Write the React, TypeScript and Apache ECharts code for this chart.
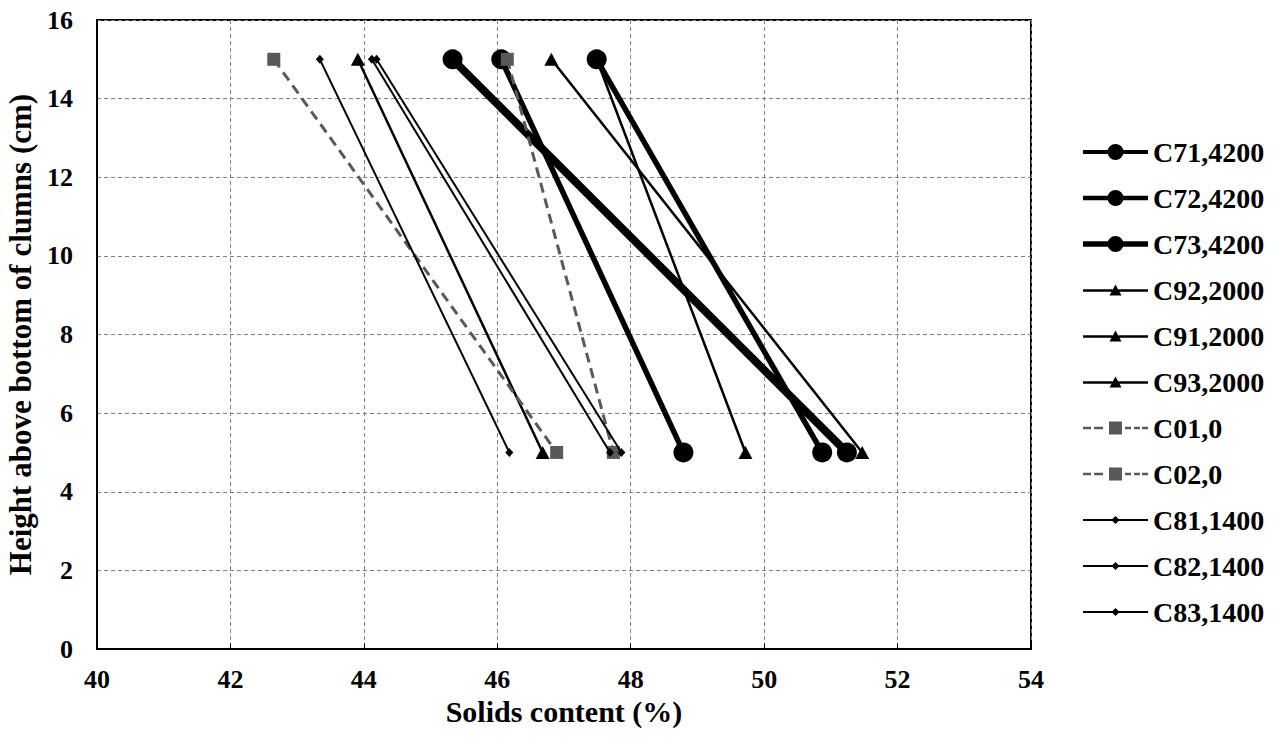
import React, { useEffect, useRef } from "react";
import * as echarts from "echarts";

// ---- data ----
const heights = [15, 5];
const seriesNames = [
  "C71,4200", "C72,4200", "C73,4200",
  "C92,2000", "C91,2000", "C93,2000",
  "C01,0", "C02,0",
  "C81,1400", "C82,1400", "C83,1400",
];
const c71 = [46.06, 48.79];
const c72 = [47.49, 50.87];
const c73 = [45.33, 51.24];
const c92 = [43.91, 46.68];
const c91 = [46.81, 51.47];
const c93 = [47.49, 49.72];
const c01 = [42.65, 46.89];
const c02 = [46.15, 47.74];
const c81 = [43.34, 46.18];
const c82 = [44.12, 47.69];
const c83 = [44.19, 47.86];
const seriesValues = [c71, c72, c73, c92, c91, c93, c01, c02, c81, c82, c83];
const xTicks = { min: 40, max: 54, interval: 2 };
const yTicks = { min: 0, max: 16, interval: 2 };

const FONT = "'Liberation Serif', 'Times New Roman', serif";

// ---- legend icon paths (line + marker), width 65 ----
const W = 65;
const CX = 32.5;
function rect(x0: number, x1: number, y0: number, y1: number) {
  return `M${x0} ${y0} H${x1} V${y1} H${x0} Z `;
}
function circleIcon(r: number, t: number) {
  const cy = r;
  return (
    "path://" +
    rect(0, CX - r + 1, cy - t / 2, cy + t / 2) +
    rect(CX + r - 1, W, cy - t / 2, cy + t / 2) +
    `M${CX - r} ${cy} A${r} ${r} 0 1 1 ${CX + r} ${cy} A${r} ${r} 0 1 1 ${CX - r} ${cy} Z`
  );
}
function triangleIcon(w: number, h: number, t: number) {
  const cy = h / 2 + 0.5;
  return (
    "path://" +
    rect(0, CX - w / 4, cy - t / 2, cy + t / 2) +
    rect(CX + w / 4, W, cy - t / 2, cy + t / 2) +
    `M${CX - w / 2} ${h} L${CX} 0 L${CX + w / 2} ${h} Z`
  );
}
function squareIcon(s: number, t: number) {
  const cy = s / 2;
  const a = cy - t / 2;
  const b = cy + t / 2;
  return (
    "path://" +
    rect(0, 8, a, b) +
    rect(11, 20, a, b) +
    rect(CX - s / 2, CX + s / 2, 0, s) +
    rect(42, 48, a, b) +
    rect(51, 57, a, b) +
    rect(59, W, a, b)
  );
}
function diamondIcon(s: number, t: number) {
  const cy = s / 2;
  return (
    "path://" +
    rect(0, CX - s / 4, cy - t / 2, cy + t / 2) +
    rect(CX + s / 4, W, cy - t / 2, cy + t / 2) +
    `M${CX - s / 2} ${cy} L${CX} 0 L${CX + s / 2} ${cy} L${CX} ${s} Z`
  );
}

type Style = {
  symbol: string;
  symbolSize: number | number[];
  width: number;
  color: string;
  dash?: number[];
  icon: string;
};

const styles: Style[] = [
  { symbol: "circle", symbolSize: 20, width: 5.5, color: "#000", icon: circleIcon(8, 4.2) },
  { symbol: "circle", symbolSize: 20, width: 5.5, color: "#000", icon: circleIcon(8, 4.4) },
  { symbol: "circle", symbolSize: 20, width: 8, color: "#000", icon: circleIcon(8, 5.4) },
  { symbol: "triangle", symbolSize: [14, 13], width: 2.5, color: "#000", icon: triangleIcon(12, 11, 2.6) },
  { symbol: "triangle", symbolSize: [14, 13], width: 2.5, color: "#000", icon: triangleIcon(12, 11, 2.6) },
  { symbol: "triangle", symbolSize: [14, 13], width: 2.5, color: "#000", icon: triangleIcon(12, 11, 2.6) },
  { symbol: "rect", symbolSize: 13, width: 3, color: "#595959", dash: [10, 6], icon: squareIcon(13, 2.7) },
  { symbol: "rect", symbolSize: 13, width: 3, color: "#595959", dash: [10, 6], icon: squareIcon(13, 2.7) },
  { symbol: "diamond", symbolSize: [8, 9], width: 2, color: "#000", icon: diamondIcon(8, 2) },
  { symbol: "diamond", symbolSize: [8, 9], width: 2, color: "#000", icon: diamondIcon(8, 2) },
  { symbol: "diamond", symbolSize: [8, 9], width: 2, color: "#000", icon: diamondIcon(8, 2) },
];

export default function App() {
  const ref = useRef<HTMLDivElement>(null);
  useEffect(() => {
    if (!ref.current) return;
    const chart = echarts.init(ref.current, undefined, { renderer: "svg" });
    const series = seriesNames.map((name, i) => {
      const st = styles[i];
      return {
        name,
        type: "line",
        data: seriesValues[i].map((x, j) => [x, heights[j]]),
        symbol: st.symbol,
        symbolSize: st.symbolSize,
        showSymbol: true,
        color: st.color,
        itemStyle: { color: st.color, borderWidth: 0 },
        lineStyle: { color: st.color, width: st.width, type: st.dash ? st.dash : "solid" },
        emphasis: { disabled: true },
        z: 2 + i * 0.01,
      };
    });
    chart.setOption({
      animation: false,
      backgroundColor: "#fff",
      textStyle: { fontFamily: FONT },
      grid: {
        left: 97,
        right: 251,
        top: 20,
        bottom: 95,
        outerBoundsMode: "none",
        containLabel: false,
        show: true,
        borderColor: "#000",
        borderWidth: 2,
      },
      xAxis: {
        type: "value",
        min: xTicks.min,
        max: xTicks.max,
        interval: xTicks.interval,
        name: "Solids content (%)",
        nameLocation: "middle",
        nameGap: 47,
        nameTextStyle: { fontFamily: FONT, fontWeight: "bold", fontSize: 30, color: "#000" },
        axisLine: { show: true, lineStyle: { color: "#000", width: 2 } },
        axisTick: { show: true, inside: true, length: 6, lineStyle: { color: "#000", width: 1 } },
        axisLabel: { fontFamily: FONT, fontWeight: "bold", fontSize: 26, color: "#000", margin: 17 },
        splitLine: { show: true, lineStyle: { color: "#808080", type: [4, 3], width: 1 } },
      },
      yAxis: {
        type: "value",
        min: yTicks.min,
        max: yTicks.max,
        interval: yTicks.interval,
        name: "Height above bottom of clumns (cm)",
        nameLocation: "middle",
        nameGap: 60,
        nameTextStyle: { fontFamily: FONT, fontWeight: "bold", fontSize: 31, color: "#000" },
        axisLine: { show: true, lineStyle: { color: "#000", width: 2 } },
        axisTick: { show: false },
        axisLabel: { fontFamily: FONT, fontWeight: "bold", fontSize: 26, color: "#000", margin: 24 },
        splitLine: { show: true, lineStyle: { color: "#808080", type: [4, 3], width: 1 } },
      },
      legend: {
        orient: "vertical",
        left: 1078,
        top: 133,
        itemWidth: 65,
        itemHeight: 26,
        itemGap: 18,
        selectedMode: false,
        symbolKeepAspect: true,
        itemStyle: { borderWidth: 0 },
        textStyle: { fontFamily: FONT, fontWeight: "bold", fontSize: 28, color: "#000", lineHeight: 26 },
        data: seriesNames.map((name, i) => ({ name, icon: styles[i].icon })),
      },
      series,
    });
    return () => chart.dispose();
  }, []);
  return (
    <div
      ref={ref}
      style={{ position: "fixed", left: 0, top: 0, width: 1282, height: 744 }}
    />
  );
}
